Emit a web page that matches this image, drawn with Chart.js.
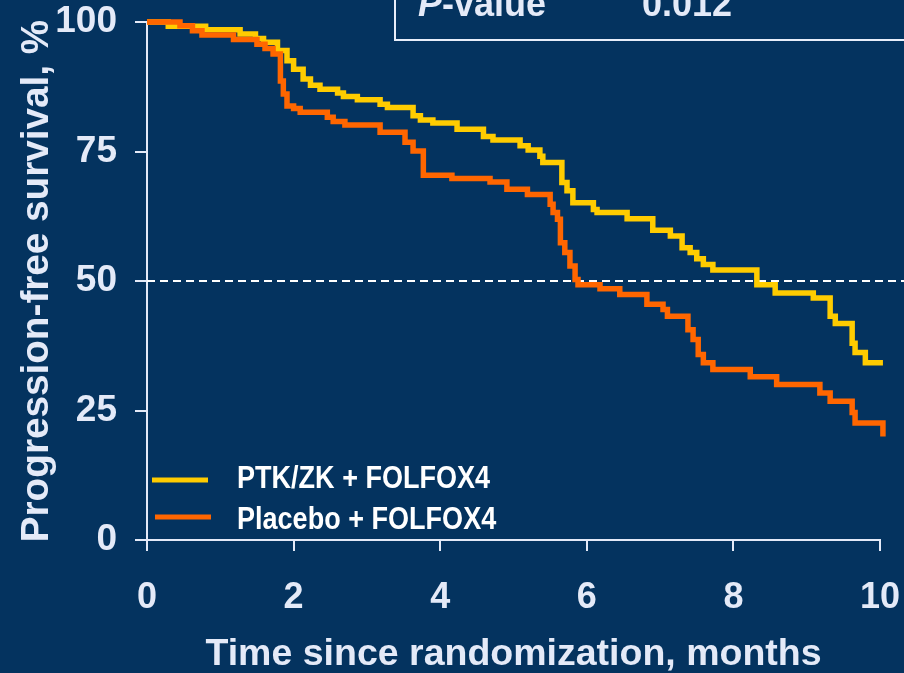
<!DOCTYPE html>
<html>
<head>
<meta charset="utf-8">
<script src="https://cdn.jsdelivr.net/npm/chart.js@4.4.1/dist/chart.umd.min.js"></script>
<style>
  html, body { margin: 0; padding: 0; background: #04335f; }
  #wrap { width: 904px; height: 673px; }
</style>
</head>
<body>
<div id="wrap"><canvas id="pfs" width="904" height="673"></canvas></div>
<script>
// Kaplan-Meier steps: time of each drop (months) and survival after it (%)
var ptkTimes = [0, 0.29, 0.80, 1.27, 1.48, 1.59, 1.78, 1.91, 2.00, 2.13, 2.23, 2.36, 2.60, 2.68, 2.87, 3.18, 3.28, 3.63, 3.73, 3.90, 4.23, 4.59, 4.72, 5.09, 5.20, 5.36, 5.40, 5.66, 5.73, 5.81, 6.09, 6.14, 6.55, 6.90, 7.14, 7.30, 7.41, 7.50, 7.59, 7.72, 8.32, 8.57, 9.09, 9.32, 9.39, 9.62, 9.66, 9.80, 10.04];
var ptkSurv = [100, 99.2, 98.5, 97.7, 96.8, 96.1, 94.5, 92.5, 90.9, 89.0, 87.8, 87.0, 86.3, 85.6, 85.0, 84.1, 83.5, 81.9, 81.1, 80.5, 79.3, 77.9, 77.2, 76.1, 75.3, 74.1, 72.9, 69.0, 67.4, 65.1, 63.8, 63.2, 62.0, 59.8, 58.7, 56.4, 55.5, 54.3, 53.2, 52.1, 49.3, 47.7, 46.7, 43.2, 41.8, 38.0, 36.2, 34.2, 34.2];

var placeboTimes = [0, 0.45, 0.62, 0.75, 1.18, 1.50, 1.61, 1.72, 1.82, 1.86, 1.91, 2.00, 2.09, 2.46, 2.54, 2.70, 3.18, 3.52, 3.63, 3.77, 4.16, 4.68, 4.91, 5.19, 5.50, 5.54, 5.60, 5.64, 5.70, 5.77, 5.84, 5.88, 6.18, 6.45, 6.82, 7.04, 7.10, 7.38, 7.45, 7.52, 7.59, 7.72, 8.23, 8.59, 9.18, 9.32, 9.62, 9.66, 10.04];
var placeboSurv = [100, 99.3, 98.3, 97.5, 96.6, 95.7, 94.9, 93.8, 88.6, 86.1, 83.8, 83.3, 82.6, 81.6, 80.8, 80.1, 78.7, 76.8, 75.1, 70.4, 69.8, 69.1, 67.7, 66.7, 64.8, 63.2, 61.9, 57.4, 55.5, 52.9, 50.3, 49.3, 48.5, 47.4, 45.5, 44.5, 43.2, 40.6, 38.7, 35.8, 34.2, 32.9, 31.5, 30.0, 28.4, 26.8, 24.6, 22.6, 20.0];

var seriesLabels = ['PTK/ZK + FOLFOX4', 'Placebo + FOLFOX4'];
var medianLineTimes = [0, 10.33];
var medianLineSurv = [50, 50];
var pValueLabel = '-value';
var pValue = '0.012';

var TEXT = '#e4eaf8';
var YELLOW = '#ffcc00';
var ORANGE = '#ff6600';
var FONT = 'Arial, "Liberation Sans", sans-serif';

function toPoints(xs, ys) {
	var pts = [];
	for (var i = 0; i < xs.length; i++) {
		pts.push({ x: xs[i], y: ys[i] });
	}
	return pts;
}

/** legend inside the plot and the p-value box at the top */
var decorations = {
	id: 'decorations',
	afterDraw: function(chart) {
		var ctx = chart.ctx;
		var sets = [chart.data.datasets[0], chart.data.datasets[1]];
		var lineX = [[152, 208], [155, 211]];
		var lineY = [480, 517];
		var baseY = [488, 529];
		ctx.save();
		for (var i = 0; i < sets.length; i++) {
			ctx.strokeStyle = sets[i].borderColor;
			ctx.lineWidth = 5;
			ctx.beginPath();
			ctx.moveTo(lineX[i][0], lineY[i]);
			ctx.lineTo(lineX[i][1], lineY[i]);
			ctx.stroke();
			// narrow bold face, squeezed from the normal one
			ctx.save();
			ctx.translate(237, baseY[i]);
			ctx.scale(0.845, 1);
			ctx.fillStyle = '#ffffff';
			ctx.font = 'bold 32px ' + FONT;
			ctx.textBaseline = 'alphabetic';
			ctx.fillText(sets[i].label, 0, 0);
			ctx.restore();
		}

		// p-value box, cut off by the top edge
		ctx.strokeStyle = '#e8eefa';
		ctx.lineWidth = 2;
		ctx.strokeRect(395, -10, 530, 50);
		ctx.fillStyle = TEXT;
		ctx.textBaseline = 'alphabetic';
		ctx.font = 'italic bold 36px ' + FONT;
		ctx.fillText('P', 418, 16);
		var pw = ctx.measureText('P').width;
		ctx.font = 'bold 36px ' + FONT;
		ctx.fillText(pValueLabel, 418 + pw, 16);
		ctx.fillText(pValue, 642, 16);
		ctx.restore();
	}
};

var ctx = document.getElementById('pfs').getContext('2d');
var chart = new Chart(ctx, {
	type: 'line',
	data: {
		datasets: [
			{
				label: seriesLabels[0],
				data: toPoints(ptkTimes, ptkSurv),
				borderColor: YELLOW,
				borderWidth: 5.5,
				stepped: 'before',
				clip: false,
				order: 2
			},
			{
				label: seriesLabels[1],
				data: toPoints(placeboTimes, placeboSurv),
				borderColor: ORANGE,
				borderWidth: 5.5,
				stepped: 'before',
				clip: false,
				order: 1
			},
			{
				label: 'median',
				data: toPoints(medianLineTimes, medianLineSurv),
				borderColor: '#ffffff',
				borderWidth: 2,
				borderDash: [8, 5],
				clip: false,
				order: 3
			}
		]
	},
	options: {
		responsive: false,
		animation: false,
		layout: { padding: { top: 22, right: 24, left: 0, bottom: 0 } },
		elements: { point: { radius: 0 }, line: { tension: 0, borderJoinStyle: 'miter', borderCapStyle: 'butt' } },
		plugins: { legend: { display: false }, tooltip: { enabled: false } },
		scales: {
			x: {
				type: 'linear',
				min: 0,
				max: 10,
				afterFit: function(scale) { scale.height = 133; scale.paddingLeft = 0; scale.paddingRight = 0; },
				ticks: { stepSize: 2, color: TEXT, padding: 25, font: { family: FONT, size: 36, weight: 'bold' } },
				grid: { drawOnChartArea: false, drawTicks: true, tickLength: 11, color: TEXT, lineWidth: 2 },
				border: { display: true, color: TEXT, width: 2 },
				title: { display: true, text: 'Time since randomization, months', color: TEXT, padding: { top: 0, bottom: 0 }, font: { family: FONT, size: 37.5, weight: 'bold', lineHeight: 1 } }
			},
			y: {
				min: 0,
				max: 100,
				afterFit: function(scale) { scale.width = 147; scale.paddingTop = 0; scale.paddingBottom = 0; },
				ticks: { stepSize: 25, color: TEXT, padding: 18, font: { family: FONT, size: 37, weight: 'bold' } },
				grid: { drawOnChartArea: false, drawTicks: true, tickLength: 12, color: TEXT, lineWidth: 2 },
				border: { display: true, color: TEXT, width: 2 },
				title: { display: true, text: 'Progression-free survival, %', color: TEXT, padding: { top: 14, bottom: 0 }, font: { family: FONT, size: 38.7, weight: 'bold', lineHeight: 1.2 } }
			}
		}
	},
	plugins: [decorations]
});
</script>
</body>
</html>
